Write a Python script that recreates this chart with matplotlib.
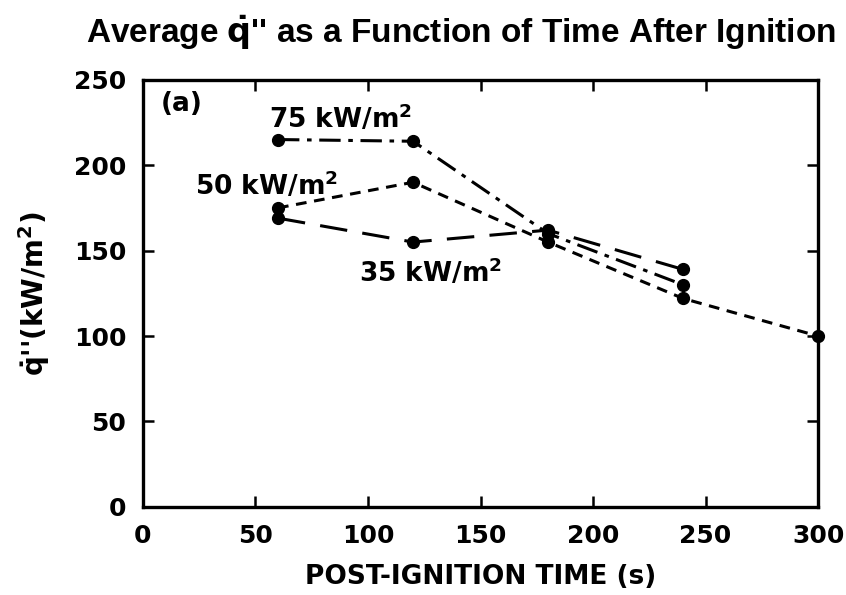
import numpy as np
import matplotlib.pyplot as plt

plt.rcParams['font.family'] = ['DejaVu Sans']
plt.rcParams['mathtext.fontset'] = 'dejavusans'
plt.rcParams['mathtext.default'] = 'bf'

# 読み取った値
time = [60, 120, 180, 240]
q75 = [215, 214, 160, 130]
time50 = [60, 120, 180, 240, 300]
q50 = [175, 190, 155, 122, 100]
q35 = [169, 155, 162, 139]

labels = ["75 kW/m$^2$", "50 kW/m$^2$", "35 kW/m$^2$"]
xticks = [0, 50, 100, 150, 200, 250, 300]
yticks = [0, 50, 100, 150, 200, 250]

fig = plt.figure(figsize=(8.46, 5.95), dpi=100)
ax = fig.add_axes([0.169, 0.148, 0.798, 0.718])

ax.plot(time, q75, color='black', lw=2.2, linestyle=(0, (7, 2.5, 1.5, 2.5)),
        marker='o', ms=8.5, clip_on=False)
ax.plot(time50, q50, color='black', lw=2.2, linestyle=(0, (3.5, 2.5)),
        marker='o', ms=8.5, clip_on=False)
ax.plot(time, q35, color='black', lw=2.2, linestyle=(0, (9, 5)),
        marker='o', ms=8.5, clip_on=False)

ax.text(88, 227, labels[0], fontsize=19, fontweight='bold', ha='center', va='center')
ax.text(55, 188, labels[1], fontsize=19, fontweight='bold', ha='center', va='center')
ax.text(128, 137, labels[2], fontsize=19, fontweight='bold', ha='center', va='center')
ax.text(17, 236, "(a)", fontsize=19, fontweight='bold', ha='center', va='center')

ax.set_xlim(0, 300)
ax.set_ylim(0, 250)
ax.set_xticks(xticks)
ax.set_yticks(yticks)
ax.tick_params(direction='in', length=8, width=1.8, top=True, right=True,
               labelsize=18, pad=12)
for lab in ax.get_xticklabels() + ax.get_yticklabels():
    lab.set_fontweight('bold')
for sp in ax.spines.values():
    sp.set_linewidth(2.4)

ax.set_xlabel("POST-IGNITION TIME (s)", fontsize=19, fontweight='bold', labelpad=12)
ax.set_ylabel(r"$\dot{q}$''(kW/m$^2$)", fontsize=20, fontweight='bold', labelpad=16)
fig.text(0.545, 0.945, r"Average $\dot{q}$'' as a Function of Time After Ignition",
         fontsize=24, fontweight='bold', ha='center', va='center',
         family='Liberation Sans')

plt.savefig('out.png', dpi=100)
